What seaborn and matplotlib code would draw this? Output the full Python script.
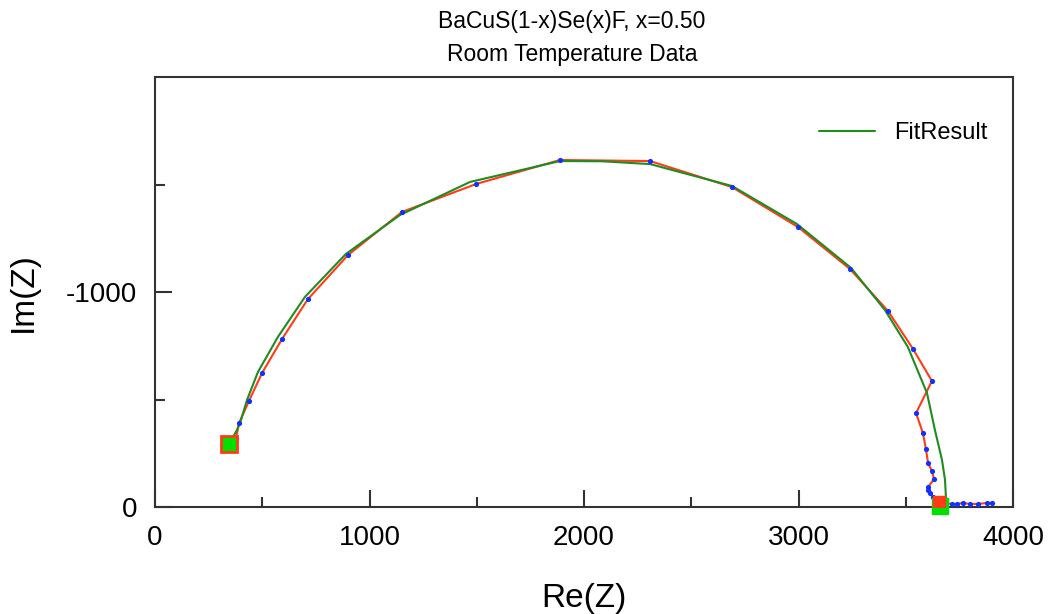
import numpy as np
import pandas as pd
import matplotlib
matplotlib.use('Agg')
import matplotlib.pyplot as plt
import matplotlib.ticker as ticker
import seaborn as sns

# measured impedance (Re, Im), high frequency first
re_data = [345, 378, 392, 438, 499, 592, 713, 900, 1151, 1496, 1888, 2308, 2690, 2998,
           3240, 3417, 3534, 3622, 3548, 3580, 3594, 3604, 3622, 3632, 3604, 3604, 3613,
           3627, 3655, 3716, 3739, 3767, 3799, 3837, 3879, 3902]
im_data = [-293, -321, -391, -493, -623, -781, -967, -1172, -1372, -1502, -1614, -1609,
           -1488, -1302, -1107, -912, -735, -586, -437, -344, -270, -205, -167, -130,
           -93, -79, -65, -47, -23, -14, -14, -19, -14, -14, -19, -19]

# fitted curve
re_fit = [345, 382, 401, 429, 480, 573, 699, 890, 1142, 1469, 1888, 2084, 2308, 2690,
          2993, 3245, 3403, 3510, 3599, 3636, 3669, 3683, 3688, 3688]
im_fit = [-293, -358, -405, -498, -628, -791, -977, -1177, -1358, -1512, -1609, -1608,
          -1595, -1493, -1316, -1112, -916, -744, -530, -358, -219, -126, -33, 0]

title = 'BaCuS(1-x)Se(x)F, x=0.50\nRoom Temperature Data'

data_df = pd.DataFrame({'Re': re_data, 'Im': im_data})
fit_df = pd.DataFrame({'Re': re_fit, 'Im': im_fit})

sns.set_style('white')
plt.rcParams['font.family'] = ['Liberation Sans', 'DejaVu Sans']
plt.rcParams['axes.unicode_minus'] = False
plt.rcParams['text.color'] = 'black'
plt.rcParams['axes.labelcolor'] = 'black'
plt.rcParams['xtick.color'] = 'black'
plt.rcParams['ytick.color'] = 'black'

red = '#ff3b1a'
green = '#1f8c1f'

fig = plt.figure(figsize=(10.49, 6.14), dpi=100)
ax = fig.add_axes([155/1049, 1-507/614, (1013-155)/1049, (507-77)/614])

sns.lineplot(x='Re', y='Im', data=data_df, sort=False, estimator=None, color=red, lw=1.5, ax=ax)
sns.lineplot(x='Re', y='Im', data=fit_df, sort=False, estimator=None, color=green, lw=1.5,
             ax=ax, label='FitResult')
sns.scatterplot(x='Re', y='Im', data=data_df, color='#1030ff', s=14, linewidth=0, ax=ax, zorder=4)

# start / end markers
ax.plot(re_data[0], im_data[0], 's', ms=11, mfc='#00e000', mec=red, mew=2, zorder=5)
ax.plot(3660, -5, 's', ms=11, mfc='#00e000', mec='#00e000', zorder=5, clip_on=False)
ax.plot(re_data[28], im_data[28], 's', ms=8, mfc=red, mec=red, zorder=6)

ax.set_xlim(0, 4000)
ax.set_ylim(0, -2000)
ax.set_xticks([0, 1000, 2000, 3000, 4000])
ax.set_yticks([0, -1000])
ax.xaxis.set_minor_locator(ticker.MultipleLocator(500))
ax.yaxis.set_minor_locator(ticker.FixedLocator([-500, -1500]))
ax.tick_params(which='major', direction='in', length=12, width=1.5, color='#333333',
               labelsize=20, pad=13, bottom=True, left=True)
ax.tick_params(which='minor', direction='in', length=7, width=1.5, color='#333333',
               bottom=True, left=True)
for s in ax.spines.values():
    s.set_color('#333333')
    s.set_linewidth(1.5)

ax.set_xlabel('Re(Z)', fontsize=24, labelpad=23)
ax.set_ylabel('Im(Z)', fontsize=24, labelpad=19)

fig.text(572/1049, 1-38/614, title, ha='center', va='center', fontsize=16.5,
         linespacing=1.6)

lg = ax.legend(loc='upper right', frameon=False, fontsize=17, handlelength=2.4,
               bbox_to_anchor=(0.995, 0.945))

plt.savefig('out.png', dpi=100)
